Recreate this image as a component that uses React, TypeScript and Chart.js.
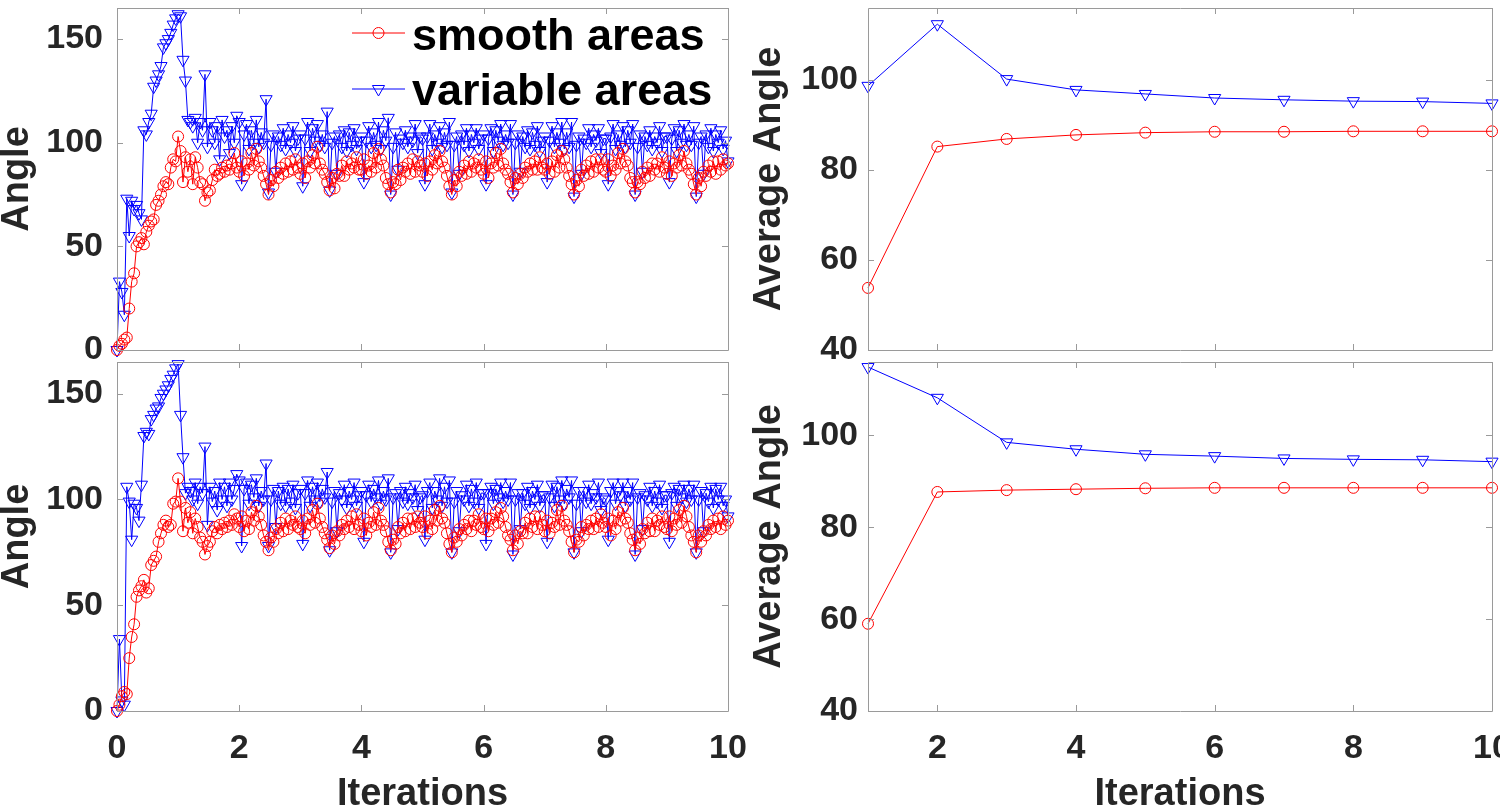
import React, { useEffect, useRef } from "react";
import { Chart, registerables } from "chart.js";

Chart.register(...registerables);

const FONT = '"Liberation Sans", Arial, Helvetica, sans-serif';
const W = 1500;
const H = 812;
const RED = "#ff0000";
const BLUE = "#0000ff";
const TEXT = "#262626";

// ---------- data ----------
const STEP = 0.04; // iteration step of the detailed traces (x = 0 .. 10)

const SMOOTH_TOP = [
  0, 2, 3, 5, 6, 20, 33, 37, 50, 52, 54, 51, 57, 60, 62, 63, 70, 72, 75, 79, 81, 80, 88, 92, 91,
  103, 96, 81, 93, 86, 92, 80, 93, 88, 81, 80, 72, 76, 77, 82, 87, 84, 85, 88, 86, 89, 87, 90, 95, 88,
  86, 91, 84, 90, 87, 95, 89, 97, 91, 88, 84, 80, 75, 82, 79, 86, 83, 88, 85, 90, 86, 91, 87, 92, 88,
  85, 90, 83, 91, 88, 94, 90, 98, 90, 87, 85, 81, 77, 83, 78, 85, 84, 89, 84, 91, 87, 90, 88, 93, 87,
  87, 92, 85, 89, 86, 95, 88, 97, 92, 89, 83, 80, 76, 81, 80, 87, 82, 88, 86, 90, 85, 92, 86, 91, 89,
  86, 90, 84, 91, 87, 94, 90, 96, 91, 88, 84, 79, 75, 82, 79, 86, 84, 89, 85, 91, 86, 90, 88, 92, 87,
  85, 91, 83, 90, 88, 95, 89, 97, 90, 87, 85, 81, 76, 83, 80, 85, 83, 88, 86, 90, 87, 91, 87, 93, 88,
  87, 90, 85, 91, 86, 94, 88, 96, 92, 88, 84, 80, 75, 82, 79, 87, 84, 89, 85, 91, 86, 92, 88, 92, 87,
  86, 92, 84, 89, 87, 95, 90, 97, 91, 89, 83, 81, 76, 81, 80, 86, 83, 88, 84, 90, 87, 90, 86, 93, 88,
  85, 91, 84, 90, 88, 94, 89, 96, 90, 87, 85, 80, 75, 83, 79, 86, 84, 89, 86, 91, 85, 91, 87, 92, 89,
  90,
];

const VARIABLE_TOP = [
  0, 33, 28, 17, 73, 55, 72, 68, 70, 66, 63, 106, 104, 110, 114, 127, 130, 133, 137, 146, 148, 150, 153, 157, 160,
  162, 161, 140, 130, 111, 110, 108, 112, 100, 110, 106, 133, 98, 110, 106, 100, 108, 92, 111, 103, 106, 95, 108, 100, 113,
  110, 80, 104, 109, 97, 106, 100, 111, 98, 105, 100, 121, 76, 99, 104, 86, 103, 99, 107, 97, 104, 100, 108, 96, 102,
  104, 79, 102, 110, 96, 107, 101, 109, 99, 104, 98, 115, 77, 100, 103, 85, 104, 98, 106, 96, 105, 99, 107, 97, 101,
  103, 81, 101, 108, 98, 105, 99, 110, 97, 106, 101, 112, 75, 98, 105, 87, 102, 100, 106, 98, 103, 101, 109, 95, 103,
  102, 80, 103, 109, 97, 104, 100, 108, 98, 105, 99, 110, 76, 99, 103, 85, 104, 99, 107, 96, 104, 100, 107, 97, 102,
  104, 80, 102, 107, 96, 106, 101, 109, 99, 104, 100, 109, 75, 100, 104, 86, 103, 98, 106, 97, 105, 99, 108, 96, 101,
  103, 81, 101, 108, 98, 105, 100, 110, 97, 105, 98, 110, 74, 99, 103, 85, 102, 100, 107, 98, 104, 101, 107, 95, 102,
  102, 80, 103, 109, 97, 104, 99, 108, 98, 106, 100, 109, 75, 98, 104, 86, 103, 99, 106, 97, 103, 100, 108, 96, 103,
  103, 81, 102, 107, 96, 106, 100, 109, 99, 104, 99, 108, 74, 100, 103, 85, 104, 98, 107, 96, 104, 100, 106, 97, 101,
  91,
];

const SMOOTH_BOTTOM = [
  0, 3, 7, 9, 8, 25, 35, 41, 54, 57, 59, 62, 56, 58, 69, 71, 73, 80, 84, 88, 90, 87, 88, 98, 99,
  110, 99, 85, 96, 89, 94, 84, 91, 87, 82, 80, 74, 78, 80, 85, 87, 84, 88, 86, 89, 87, 90, 88, 93, 91,
  87, 92, 85, 90, 86, 94, 90, 97, 92, 88, 83, 80, 76, 82, 80, 86, 84, 89, 85, 91, 86, 90, 88, 92, 87,
  86, 90, 84, 91, 88, 95, 89, 98, 91, 87, 84, 81, 77, 83, 79, 85, 83, 88, 86, 90, 87, 92, 86, 93, 88,
  85, 91, 83, 89, 87, 94, 88, 96, 90, 88, 85, 80, 76, 81, 79, 87, 84, 89, 85, 91, 86, 91, 87, 92, 89,
  87, 92, 84, 90, 86, 95, 90, 97, 91, 89, 84, 79, 75, 82, 80, 86, 83, 88, 86, 90, 85, 90, 88, 93, 87,
  86, 91, 85, 91, 88, 94, 89, 96, 92, 87, 83, 81, 76, 83, 79, 85, 84, 89, 84, 91, 87, 92, 86, 92, 88,
  85, 90, 84, 89, 87, 95, 88, 97, 90, 88, 85, 80, 75, 81, 80, 87, 83, 88, 86, 90, 86, 91, 87, 93, 89,
  87, 91, 83, 90, 86, 94, 90, 96, 91, 89, 84, 81, 76, 82, 79, 86, 84, 89, 85, 91, 85, 90, 88, 92, 87,
  86, 92, 85, 91, 88, 95, 89, 97, 92, 87, 83, 80, 75, 83, 80, 85, 83, 88, 86, 90, 87, 91, 86, 92, 88,
  90,
];

const VARIABLE_BOTTOM = [
  0, 34, 5, 3, 106, 99, 81, 98, 96, 90, 107, 130, 132, 131, 138, 140, 143, 144, 148, 150, 152, 154, 157, 159, 162,
  164, 140, 120, 103, 106, 104, 100, 108, 98, 106, 103, 125, 88, 106, 99, 104, 95, 108, 100, 106, 97, 108, 100, 105, 112,
  109, 78, 105, 108, 98, 107, 101, 110, 97, 104, 100, 117, 78, 100, 105, 87, 104, 98, 106, 97, 105, 99, 107, 96, 103,
  105, 79, 103, 109, 97, 106, 100, 108, 99, 105, 101, 113, 76, 99, 104, 85, 103, 100, 107, 96, 104, 100, 108, 97, 102,
  104, 80, 102, 107, 99, 105, 101, 109, 98, 104, 100, 110, 75, 101, 103, 86, 104, 99, 106, 98, 103, 101, 107, 95, 101,
  102, 81, 104, 108, 96, 104, 100, 110, 97, 106, 99, 109, 75, 99, 104, 85, 102, 100, 107, 97, 105, 99, 108, 96, 103,
  103, 79, 103, 106, 98, 105, 101, 108, 99, 104, 100, 108, 74, 100, 103, 86, 103, 98, 106, 96, 104, 100, 107, 97, 102,
  102, 80, 101, 107, 97, 106, 100, 109, 98, 105, 101, 109, 75, 98, 104, 85, 104, 99, 107, 98, 103, 101, 108, 95, 101,
  100, 81, 104, 108, 98, 104, 102, 108, 97, 104, 100, 108, 74, 101, 103, 86, 102, 100, 106, 97, 104, 99, 107, 96, 102,
  102, 80, 103, 106, 97, 105, 101, 107, 99, 105, 100, 107, 75, 100, 104, 85, 103, 99, 106, 96, 105, 100, 106, 97, 100,
  92,
];

const AVG_ITERATIONS = [1, 2, 3, 4, 5, 6, 7, 8, 9, 10];
const AVG_SMOOTH_TOP = [53.8, 85.2, 86.9, 87.8, 88.3, 88.5, 88.5, 88.6, 88.6, 88.6];
const AVG_VARIABLE_TOP = [98.7, 112.4, 100.2, 97.8, 96.9, 96.0, 95.6, 95.3, 95.2, 94.8];
const AVG_SMOOTH_BOTTOM = [59.0, 87.7, 88.1, 88.3, 88.5, 88.6, 88.6, 88.6, 88.6, 88.6];
const AVG_VARIABLE_BOTTOM = [114.9, 108.2, 98.5, 97.0, 95.9, 95.5, 95.0, 94.8, 94.7, 94.3];

const LEFT_X_TICKS = [0, 2, 4, 6, 8, 10];
const LEFT_Y_TICKS = [0, 50, 100, 150];
const RIGHT_X_TICKS = [2, 4, 6, 8, 10];
const RIGHT_Y_TICKS = [40, 60, 80, 100];

const SERIES_LABELS = ["smooth areas", "variable areas"];

// ---------- helpers ----------
const traceXY = (vals: number[]) => vals.map((v, i) => ({ x: i * STEP, y: v }));
const avgXY = (vals: number[]) => vals.map((v, i) => ({ x: AVG_ITERATIONS[i], y: v }));

const redSet = (data: any[]) => ({
  label: SERIES_LABELS[0],
  data,
  borderColor: RED,
  borderWidth: 1,
  backgroundColor: "rgba(0,0,0,0)",
  pointStyle: "circle",
  pointRadius: 5.5,
  pointBorderWidth: 1,
  pointBorderColor: RED,
  pointBackgroundColor: "rgba(0,0,0,0)",
  tension: 0,
  clip: false,
});
const blueSet = (data: any[]) => ({
  label: SERIES_LABELS[1],
  data,
  borderColor: BLUE,
  borderWidth: 1,
  backgroundColor: "rgba(0,0,0,0)",
  pointStyle: "triangle",
  pointRotation: 180,
  pointRadius: 7,
  pointBorderWidth: 1,
  pointBorderColor: BLUE,
  pointBackgroundColor: "rgba(0,0,0,0)",
  tension: 0,
  clip: false,
});

const frameTicksPlugin = {
  id: "frameTicks",
  afterDraw(chart: any, _args: any, opts: any) {
    const { ctx, chartArea: a, scales } = chart;
    const xs = scales.x;
    const ys = scales.y;
    const L = 6;
    ctx.save();
    ctx.strokeStyle = "#9a9a9a";
    ctx.lineWidth = 1;
    ctx.beginPath();
    ctx.rect(Math.round(a.left) + 0.5, Math.round(a.top) + 0.5, Math.round(a.right - a.left), Math.round(a.bottom - a.top));
    (opts.xTicks || []).forEach((v: number) => {
      const px = Math.round(xs.getPixelForValue(v)) + 0.5;
      ctx.moveTo(px, a.bottom);
      ctx.lineTo(px, a.bottom - L);
      ctx.moveTo(px, a.top);
      ctx.lineTo(px, a.top + L);
    });
    (opts.yTicks || []).forEach((v: number) => {
      const py = Math.round(ys.getPixelForValue(v)) + 0.5;
      ctx.moveTo(a.left, py);
      ctx.lineTo(a.left + L, py);
      ctx.moveTo(a.right, py);
      ctx.lineTo(a.right - L, py);
    });
    ctx.stroke();
    ctx.restore();
  },
};

const insideLegendPlugin = {
  id: "insideLegend",
  afterDraw(chart: any, _args: any, opts: any) {
    if (!opts || !opts.show) return;
    const { ctx, chartArea: a } = chart;
    ctx.save();
    chart.data.datasets.forEach((ds: any, i: number) => {
      const cy = a.top + opts.rowY[i];
      const by = a.top + opts.baseY[i];
      const x0 = a.left + opts.lineX0;
      const x1 = a.left + opts.lineX1;
      const mx = (x0 + x1) / 2;
      ctx.strokeStyle = ds.borderColor;
      ctx.lineWidth = 1;
      ctx.beginPath();
      ctx.moveTo(x0, cy);
      ctx.lineTo(x1, cy);
      ctx.stroke();
      ctx.beginPath();
      const r = ds.pointRadius;
      if (ds.pointStyle === "circle") {
        ctx.arc(mx, cy, r, 0, Math.PI * 2);
      } else {
        const s = Math.sin(Math.PI / 3) * r;
        ctx.moveTo(mx, cy + r);
        ctx.lineTo(mx - s, cy - r / 2);
        ctx.lineTo(mx + s, cy - r / 2);
        ctx.closePath();
      }
      ctx.stroke();
      ctx.fillStyle = "#000";
      ctx.font = `bold 45px ${FONT}`;
      ctx.textAlign = "left";
      ctx.textBaseline = "alphabetic";
      ctx.fillText(ds.label, a.left + opts.textX, by);
    });
    ctx.restore();
  },
};

type PanelCfg = {
  pad: { left: number; top: number; right: number; bottom: number };
  yWidth: number;
  xHeight: number;
  xMin: number;
  xMax: number;
  yMin: number;
  yMax: number;
  xTicks: number[];
  yTicks: number[];
  yTitle: string;
  showX: boolean;
  yTickPad: number;
  legend: boolean;
  datasets: any[];
};

function buildConfig(p: PanelCfg): any {
  const tickFont = { family: FONT, size: 34, weight: "bold" };
  return {
    type: "line",
    data: { datasets: p.datasets },
    options: {
      responsive: false,
      animation: false,
      events: [],
      layout: { padding: p.pad },
      plugins: {
        legend: { display: false },
        tooltip: { enabled: false },
        frameTicks: { xTicks: p.xTicks, yTicks: p.yTicks },
        insideLegend: {
          show: p.legend,
          lineX0: 235,
          lineX1: 288,
          rowY: [25, 81],
          baseY: [42, 97],
          textX: 295,
        },
      },
      scales: {
        x: {
          type: "linear",
          min: p.xMin,
          max: p.xMax,
          grid: { display: false, drawTicks: false },
          border: { display: false },
          afterBuildTicks: (s: any) => {
            s.ticks = p.xTicks.map((v) => ({ value: v }));
          },
          ticks: {
            display: p.showX,
            padding: 17,
            font: tickFont,
            color: TEXT,
            maxRotation: 0,
            autoSkip: false,
            callback: (v: any) => String(v),
          },
          title: {
            display: p.showX,
            text: "Iterations",
            color: TEXT,
            font: { family: FONT, size: 38, weight: "bold", lineHeight: 0.75 },
            padding: { top: 0, bottom: 3 },
          },
          afterFit: (s: any) => {
            s.height = p.xHeight;
            s.paddingLeft = 0;
            s.paddingRight = 0;
          },
        },
        y: {
          type: "linear",
          min: p.yMin,
          max: p.yMax,
          grid: { display: false, drawTicks: false },
          border: { display: false },
          afterBuildTicks: (s: any) => {
            s.ticks = p.yTicks.map((v) => ({ value: v }));
          },
          ticks: {
            padding: p.yTickPad,
            font: tickFont,
            color: TEXT,
            autoSkip: false,
            callback: (v: any) => String(v),
          },
          title: {
            display: true,
            text: p.yTitle,
            color: TEXT,
            font: { family: FONT, size: 38, weight: "bold", lineHeight: 0.9 },
            padding: 0,
          },
          afterFit: (s: any) => {
            s.width = p.yWidth;
            s.paddingTop = 0;
            s.paddingBottom = 0;
          },
        },
      },
    },
    plugins: [frameTicksPlugin, insideLegendPlugin],
  };
}

const PANELS: PanelCfg[] = [
  {
    pad: { left: 0, top: 1, right: W - 728, bottom: 0 },
    yWidth: 117,
    xHeight: H - 350,
    xMin: 0,
    xMax: 10,
    yMin: 0,
    yMax: 165,
    xTicks: LEFT_X_TICKS,
    yTicks: LEFT_Y_TICKS,
    yTitle: "Angle",
    showX: false,
    yTickPad: 14,
    legend: true,
    datasets: [redSet(traceXY(SMOOTH_TOP)), blueSet(traceXY(VARIABLE_TOP))],
  },
  {
    pad: { left: 0, top: 362, right: W - 728, bottom: 0 },
    yWidth: 117,
    xHeight: H - 711,
    xMin: 0,
    xMax: 10,
    yMin: 0,
    yMax: 165,
    xTicks: LEFT_X_TICKS,
    yTicks: LEFT_Y_TICKS,
    yTitle: "Angle",
    showX: true,
    yTickPad: 14,
    legend: false,
    datasets: [redSet(traceXY(SMOOTH_BOTTOM)), blueSet(traceXY(VARIABLE_BOTTOM))],
  },
  {
    pad: { left: 752, top: 1, right: 3, bottom: 0 },
    yWidth: 116,
    xHeight: H - 350,
    xMin: 1,
    xMax: 10,
    yMin: 40,
    yMax: 116,
    xTicks: RIGHT_X_TICKS,
    yTicks: RIGHT_Y_TICKS,
    yTitle: "Average Angle",
    showX: false,
    yTickPad: 10,
    legend: false,
    datasets: [redSet(avgXY(AVG_SMOOTH_TOP)), blueSet(avgXY(AVG_VARIABLE_TOP))],
  },
  {
    pad: { left: 752, top: 362, right: 3, bottom: 0 },
    yWidth: 116,
    xHeight: H - 711,
    xMin: 1,
    xMax: 10,
    yMin: 40,
    yMax: 116,
    xTicks: RIGHT_X_TICKS,
    yTicks: RIGHT_Y_TICKS,
    yTitle: "Average Angle",
    showX: true,
    yTickPad: 10,
    legend: false,
    datasets: [redSet(avgXY(AVG_SMOOTH_BOTTOM)), blueSet(avgXY(AVG_VARIABLE_BOTTOM))],
  },
];

function Panel({ cfg }: { cfg: PanelCfg }) {
  const ref = useRef<HTMLCanvasElement | null>(null);
  useEffect(() => {
    if (!ref.current) return;
    const chart = new Chart(ref.current, buildConfig(cfg));
    return () => chart.destroy();
  }, [cfg]);
  return (
    <canvas
      ref={ref}
      width={W}
      height={H}
      style={{ position: "absolute", left: 0, top: 0, width: W, height: H }}
    />
  );
}

export default function App() {
  return (
    <div
      style={{
        position: "fixed",
        left: 0,
        top: 0,
        width: W,
        height: H,
        background: "#ffffff",
        overflow: "hidden",
      }}
    >
      {PANELS.map((p, i) => (
        <Panel key={i} cfg={p} />
      ))}
    </div>
  );
}
